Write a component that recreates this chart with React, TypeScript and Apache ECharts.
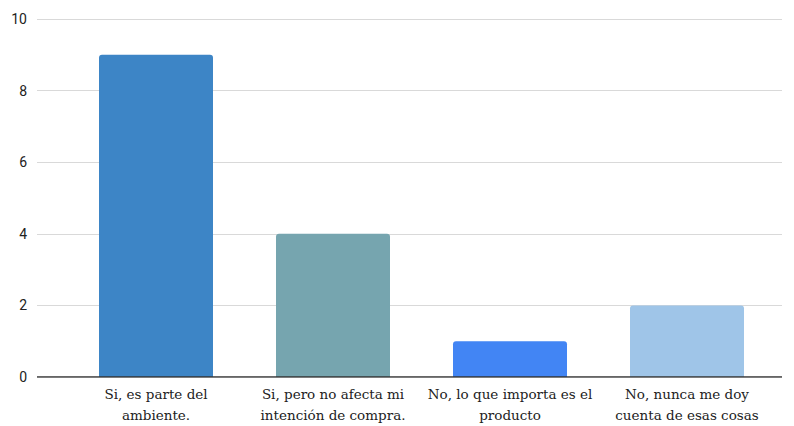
import React, { useEffect, useRef } from "react";
import * as echarts from "echarts";

const categories = [
  "Si, es parte del\nambiente.",
  "Si, pero no afecta mi\nintención de compra.",
  "No, lo que importa es el\nproducto",
  "No, nunca me doy\ncuenta de esas cosas",
];
const values = [9, 4, 1, 2];
const barColors = ["#3d85c6", "#76a5af", "#4285f4", "#9fc5e8"];
const yTicks = { min: 0, max: 10, interval: 2 };

export default function App() {
  const ref = useRef<HTMLDivElement>(null);
  useEffect(() => {
    if (!ref.current) return;
    const chart = echarts.init(ref.current, null, { renderer: "svg" });
    chart.setOption({
      animation: false,
      backgroundColor: "#ffffff",
      grid: [
        { left: 37, right: 12, top: 19, bottom: 49 },
        { left: 67.5, right: 18.5, top: 19, bottom: 49 },
      ],
      xAxis: [
        {
          type: "value",
          gridIndex: 0,
          min: 0,
          max: 1,
          show: false,
        },
        {
          type: "category",
          gridIndex: 1,
          data: categories,
          axisLine: { show: false },
          axisTick: { show: false },
          axisLabel: {
            interval: 0,
            fontFamily: "DejaVu Serif",
            fontSize: 13.5,
            color: "#222222",
            lineHeight: 21,
            margin: 6,
          },
        },
      ],
      yAxis: [
        {
          type: "value",
          gridIndex: 0,
          min: yTicks.min,
          max: yTicks.max,
          interval: yTicks.interval,
          axisLine: { show: false },
          axisTick: { show: false },
          splitLine: { lineStyle: { color: "#d9d9d9", width: 1 } },
          axisLabel: {
            fontFamily: "Roboto",
            fontSize: 14,
            color: "#222222",
            margin: 10,
          },
        },
        {
          type: "value",
          gridIndex: 1,
          min: yTicks.min,
          max: yTicks.max,
          interval: yTicks.interval,
          show: false,
        },
      ],
      series: [
        {
          type: "line",
          xAxisIndex: 0,
          yAxisIndex: 0,
          data: [
            [0, 0],
            [1, 0],
          ],
          symbol: "none",
          lineStyle: { color: "#333333", width: 1.5 },
          silent: true,
          z: 5,
        },
        {
          type: "bar",
          xAxisIndex: 1,
          yAxisIndex: 1,
          barWidth: 114,
          data: values.map((v, i) => ({
            value: v,
            itemStyle: { color: barColors[i], borderRadius: [3, 3, 0, 0] },
          })),
          z: 3,
        },
      ],
    });
    return () => chart.dispose();
  }, []);
  return <div ref={ref} style={{ width: 794, height: 426, position: "absolute", left: 0, top: 0 }} />;
}
